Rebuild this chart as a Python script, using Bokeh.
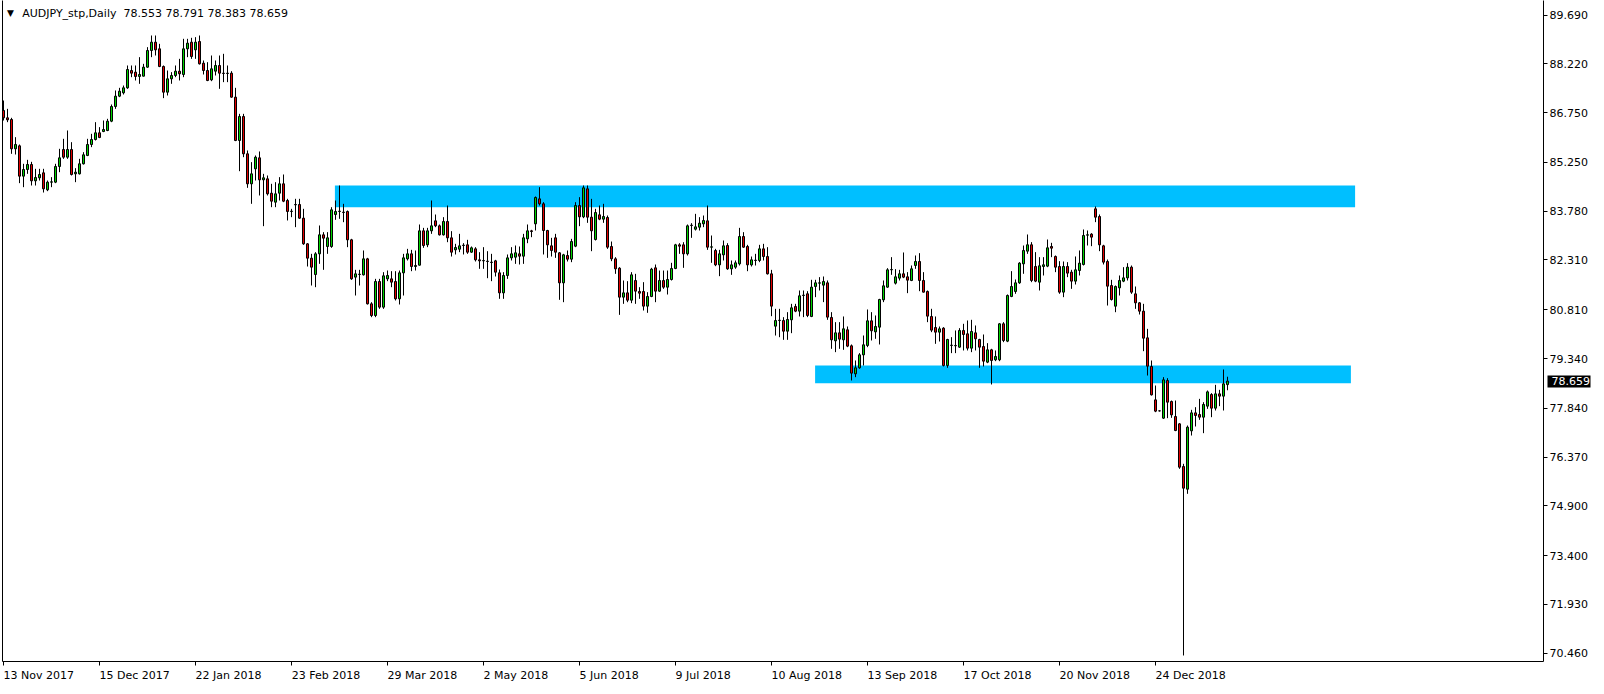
from bokeh.plotting import figure
from bokeh.models import (Range1d, LinearAxis, FixedTicker, PrintfTickFormatter,
                          CustomJSTickFormatter, Label, ColumnDataSource)
from bokeh.embed import file_html
from bokeh.resources import INLINE

# ---------------- data ----------------
symbol = "AUDJPY_stp"
timeframe = "Daily"

opens = [
    86.815, 86.594, 86.544, 85.660, 85.750, 84.836, 85.037, 85.187, 84.695, 84.786,
    84.936, 84.424, 84.655, 84.655, 85.127, 85.639, 85.408, 85.639, 84.906, 84.906,
    85.208, 85.459, 85.790, 85.941, 86.142, 86.182, 86.212, 86.493, 86.935, 87.247,
    87.347, 87.498, 88.020, 87.970, 87.840, 87.850, 88.121, 88.623, 88.874, 88.673,
    88.141, 87.367, 87.769, 87.870, 88.000, 87.900, 88.673, 88.874, 88.643, 88.894,
    88.241, 88.020, 87.739, 88.000, 88.171, 87.940, 87.930, 87.940, 87.217, 85.911,
    86.634, 85.509, 84.605, 85.057, 85.388, 84.725, 84.755, 84.323, 84.052, 84.323,
    84.605, 84.102, 83.771, 83.982, 83.982, 83.570, 82.796, 82.364, 81.872, 82.495,
    83.068, 82.716, 82.716, 83.680, 83.771, 83.751, 83.771, 82.917, 81.792, 81.872,
    81.862, 82.344, 80.988, 80.636, 81.661, 80.888, 81.741, 81.741, 81.661, 81.139,
    81.922, 82.344, 82.495, 82.113, 82.153, 83.188, 82.766, 83.188, 83.489, 83.339,
    83.067, 83.469, 82.977, 82.615, 82.635, 82.746, 82.766, 82.545, 82.645, 82.314,
    82.284, 82.274, 82.244, 82.284, 81.922, 81.319, 81.842, 82.374, 82.394, 82.495,
    82.424, 82.947, 83.188, 83.399, 84.152, 84.002, 83.198, 82.736, 82.977, 82.525,
    81.621, 82.445, 82.334, 82.726, 83.951, 83.610, 84.454, 83.600, 82.927, 83.670,
    83.540, 83.590, 82.716, 82.344, 82.063, 81.189, 81.319, 81.098, 81.691, 81.360,
    81.360, 80.918, 81.209, 82.073, 81.370, 81.691, 81.490, 81.721, 82.053, 82.766,
    82.766, 82.495, 83.349, 83.238, 83.298, 83.399, 83.489, 82.696, 82.595, 82.163,
    82.465, 82.746, 82.043, 82.093, 82.193, 83.017, 82.716, 82.163, 82.294, 82.294,
    82.645, 82.414, 81.892, 80.315, 80.485, 80.485, 80.164, 80.506, 80.908, 80.767,
    81.240, 81.290, 80.607, 81.511, 81.611, 81.551, 81.621, 80.577, 79.873, 80.114,
    79.903, 80.205, 79.723, 78.879, 79.060, 79.451, 79.733, 80.476, 80.144, 80.285,
    81.109, 81.491, 82.013, 81.611, 81.762, 81.893, 81.802, 81.692, 82.144, 82.264,
    81.692, 81.360, 80.607, 80.275, 80.134, 80.255, 79.130, 79.733, 79.723, 79.682,
    80.185, 80.084, 79.652, 80.114, 79.913, 79.702, 79.230, 79.602, 79.301, 79.301,
    80.386, 79.863, 81.209, 81.360, 81.621, 82.194, 82.576, 82.767, 82.114, 81.641,
    82.114, 82.124, 82.716, 82.415, 82.114, 81.340, 82.114, 81.943, 81.672, 81.993,
    82.174, 83.058, 83.088, 83.851, 83.620, 82.736, 82.264, 81.540, 80.917, 81.470,
    81.671, 81.771, 82.093, 81.289, 81.018, 80.767, 79.963, 79.099, 78.094, 77.763,
    77.542, 78.677, 78.044, 77.592, 77.371, 76.085, 75.402, 77.160, 77.702, 77.652,
    77.572, 77.904, 78.255, 77.843, 78.275, 78.205, 78.553,
]

highs = [
    87.116, 86.865, 86.594, 86.011, 85.790, 85.208, 85.328, 85.268, 85.057, 85.057,
    85.057, 84.705, 84.806, 85.208, 85.660, 85.961, 86.212, 85.860, 85.077, 85.358,
    85.559, 85.961, 86.112, 86.463, 86.313, 86.513, 86.564, 86.996, 87.418, 87.498,
    87.568, 88.171, 88.171, 88.171, 88.422, 88.221, 88.724, 89.075, 89.075, 88.824,
    88.171, 88.020, 87.970, 88.171, 88.372, 88.975, 88.975, 89.005, 89.025, 89.075,
    88.322, 88.271, 88.472, 88.322, 88.472, 88.523, 88.171, 88.000, 87.498, 86.714,
    86.714, 85.610, 85.258, 85.459, 85.580, 84.906, 84.856, 84.605, 84.655, 84.806,
    84.886, 84.153, 83.851, 84.153, 84.153, 83.851, 82.817, 82.495, 82.545, 83.349,
    83.148, 83.148, 83.901, 84.102, 84.554, 84.002, 83.801, 82.947, 82.013, 82.013,
    82.596, 82.374, 81.038, 81.741, 81.741, 81.942, 81.993, 81.972, 81.972, 81.992,
    82.495, 82.645, 82.615, 82.595, 83.379, 83.278, 83.278, 84.102, 83.680, 83.379,
    83.600, 83.951, 83.178, 82.796, 83.097, 82.816, 82.917, 82.716, 82.696, 82.545,
    82.696, 82.575, 82.495, 82.314, 82.022, 81.942, 82.475, 82.696, 82.746, 82.716,
    83.097, 83.379, 83.218, 84.223, 84.504, 84.052, 83.218, 82.977, 83.097, 82.545,
    82.495, 82.595, 82.947, 84.052, 84.203, 84.554, 84.554, 84.152, 83.851, 83.951,
    84.002, 83.650, 82.866, 82.394, 82.093, 81.691, 81.671, 81.942, 81.892, 81.490,
    81.641, 81.339, 82.073, 82.173, 81.992, 81.992, 81.992, 82.224, 82.796, 82.816,
    82.846, 83.379, 83.419, 83.700, 83.600, 83.650, 83.951, 83.047, 82.645, 82.615,
    82.897, 82.816, 82.294, 82.294, 83.278, 83.148, 82.766, 82.414, 82.495, 82.766,
    82.796, 82.696, 82.012, 80.837, 80.837, 80.586, 80.737, 80.988, 80.988, 81.390,
    81.390, 81.370, 81.712, 81.712, 81.792, 81.812, 81.692, 80.737, 80.436, 80.436,
    80.607, 80.305, 79.763, 79.281, 79.502, 80.034, 80.818, 80.737, 80.637, 81.139,
    81.692, 82.063, 82.395, 82.033, 82.013, 82.536, 81.943, 82.144, 82.445, 82.515,
    81.943, 81.390, 80.838, 80.607, 80.305, 80.285, 79.934, 79.984, 80.185, 80.255,
    80.386, 80.486, 80.506, 80.335, 79.934, 80.064, 79.803, 79.632, 79.582, 80.406,
    80.436, 81.270, 81.973, 81.722, 82.244, 82.746, 83.078, 82.847, 82.546, 82.395,
    82.395, 82.927, 82.827, 82.445, 82.274, 82.264, 82.244, 82.013, 82.415, 82.596,
    83.229, 83.199, 83.118, 83.922, 83.681, 82.767, 82.324, 81.711, 81.540, 81.842,
    82.093, 82.213, 82.143, 81.510, 81.038, 80.988, 80.234, 79.280, 78.526, 77.773,
    78.778, 78.747, 78.074, 78.074, 77.391, 76.166, 77.321, 77.793, 77.873, 78.124,
    78.024, 78.376, 78.295, 78.546, 78.396, 79.009, 78.791,
]

lows = [
    86.513, 86.463, 85.509, 85.489, 84.625, 84.504, 84.906, 84.554, 84.554, 84.705,
    84.343, 84.384, 84.504, 84.625, 84.956, 85.358, 85.358, 84.856, 84.655, 84.886,
    85.187, 85.439, 85.710, 85.911, 85.981, 86.162, 86.192, 86.463, 86.865, 87.217,
    87.297, 87.468, 87.819, 87.719, 87.619, 87.840, 88.101, 88.422, 88.472, 88.121,
    87.187, 87.267, 87.619, 87.819, 87.719, 87.819, 88.422, 88.372, 88.372, 88.201,
    87.900, 87.699, 87.699, 87.870, 87.468, 87.669, 87.669, 87.200, 85.891, 84.986,
    85.408, 84.484, 84.002, 84.705, 84.253, 83.329, 84.253, 83.901, 83.901, 84.102,
    84.052, 83.500, 83.600, 83.299, 83.550, 82.766, 82.113, 81.540, 81.490, 82.194,
    82.013, 82.495, 82.676, 83.520, 83.550, 83.449, 82.696, 81.711, 81.239, 81.540,
    81.842, 80.968, 80.586, 80.586, 80.837, 80.837, 81.671, 81.490, 81.089, 80.968,
    81.239, 82.294, 81.972, 81.992, 82.143, 82.676, 82.696, 83.097, 83.298, 83.047,
    83.047, 82.846, 82.414, 82.475, 82.545, 82.475, 82.495, 82.525, 82.264, 82.043,
    82.043, 81.761, 81.671, 81.812, 81.139, 81.139, 81.741, 82.294, 82.193, 82.173,
    82.193, 82.816, 82.997, 83.198, 83.951, 82.475, 82.374, 82.414, 82.374, 81.109,
    81.038, 82.264, 82.244, 82.696, 83.329, 83.570, 83.429, 82.575, 82.897, 83.509,
    83.429, 82.645, 82.274, 81.892, 80.656, 80.988, 81.038, 81.008, 80.988, 81.139,
    80.787, 80.717, 81.189, 81.038, 81.350, 81.440, 81.269, 81.691, 82.033, 82.495,
    82.073, 82.445, 82.977, 83.198, 83.198, 83.298, 82.615, 82.224, 82.123, 81.822,
    82.294, 82.012, 81.862, 82.043, 82.143, 82.676, 81.972, 82.113, 82.143, 82.244,
    82.294, 81.872, 80.616, 80.033, 79.983, 79.903, 79.903, 80.104, 80.737, 80.607,
    80.587, 80.587, 80.587, 81.189, 81.390, 81.039, 80.506, 79.632, 79.532, 79.632,
    79.602, 79.682, 78.678, 78.778, 79.030, 79.130, 79.682, 79.883, 79.934, 79.763,
    81.039, 81.471, 81.862, 81.571, 81.692, 81.762, 81.310, 81.672, 82.043, 81.370,
    81.330, 80.436, 80.134, 79.783, 79.853, 79.100, 79.060, 79.502, 79.502, 79.662,
    79.582, 79.582, 79.532, 79.582, 79.060, 79.100, 79.200, 78.557, 79.260, 79.260,
    79.833, 79.833, 81.189, 81.290, 81.591, 81.893, 82.495, 81.641, 81.641, 81.390,
    81.842, 82.093, 82.395, 81.943, 81.290, 81.189, 81.792, 81.440, 81.571, 81.842,
    82.144, 82.746, 82.726, 83.450, 82.576, 82.174, 80.937, 81.088, 80.736, 81.239,
    81.641, 81.691, 81.289, 80.837, 80.666, 79.561, 78.828, 78.225, 77.723, 77.743,
    77.522, 77.542, 77.552, 77.150, 76.015, 70.390, 75.262, 77.019, 77.291, 77.492,
    77.090, 77.823, 77.572, 77.773, 77.904, 77.773, 78.383,
]

closes = [
    86.594, 86.534, 85.660, 85.790, 84.836, 85.037, 85.187, 84.695, 84.796, 84.886,
    84.454, 84.655, 84.665, 85.127, 85.388, 85.408, 85.639, 84.886, 84.956, 85.208,
    85.479, 85.790, 85.941, 86.142, 86.001, 86.242, 86.493, 86.935, 87.247, 87.397,
    87.498, 88.050, 87.940, 87.840, 87.900, 88.121, 88.623, 88.874, 88.643, 88.141,
    87.367, 87.769, 87.870, 88.000, 87.920, 88.673, 88.844, 88.442, 88.874, 88.221,
    88.020, 87.719, 88.071, 88.171, 87.940, 87.930, 87.940, 87.217, 85.911, 86.634,
    85.509, 84.605, 84.906, 85.408, 84.725, 84.786, 84.303, 84.082, 84.303, 84.605,
    84.082, 83.771, 83.781, 83.972, 83.570, 82.796, 82.364, 82.093, 82.495, 83.068,
    82.967, 82.977, 83.821, 83.771, 83.781, 83.741, 82.917, 81.741, 81.892, 81.882,
    82.344, 80.988, 80.636, 81.661, 80.888, 81.832, 81.842, 81.641, 81.139, 81.922,
    82.374, 82.495, 82.113, 82.143, 83.188, 82.746, 83.188, 83.339, 83.339, 83.067,
    83.469, 82.977, 82.545, 82.686, 82.736, 82.756, 82.545, 82.676, 82.314, 82.284,
    82.294, 82.264, 82.234, 81.942, 81.319, 81.842, 82.374, 82.495, 82.525, 82.424,
    82.977, 83.188, 83.168, 84.193, 84.002, 83.198, 82.766, 82.595, 82.545, 81.621,
    82.465, 82.334, 82.866, 83.951, 83.610, 84.484, 83.600, 83.188, 83.740, 83.540,
    83.620, 82.696, 82.344, 82.043, 81.189, 81.319, 81.098, 81.862, 81.370, 81.309,
    80.918, 81.209, 82.033, 81.370, 81.691, 81.490, 81.721, 82.053, 82.766, 82.726,
    82.495, 83.339, 83.359, 83.308, 83.419, 83.499, 82.696, 82.706, 82.163, 82.495,
    82.736, 82.043, 82.163, 82.224, 83.017, 82.696, 82.163, 82.314, 82.304, 82.645,
    82.414, 81.892, 80.918, 80.485, 80.495, 80.164, 80.516, 80.868, 80.767, 81.230,
    81.250, 80.637, 81.491, 81.621, 81.621, 81.662, 80.587, 79.903, 80.114, 79.924,
    80.235, 79.713, 78.899, 79.060, 79.451, 79.753, 80.476, 80.175, 80.305, 81.119,
    81.531, 82.013, 82.023, 81.802, 81.893, 81.792, 81.702, 82.043, 82.264, 81.692,
    81.340, 80.617, 80.195, 80.134, 80.235, 79.130, 79.913, 79.743, 79.733, 80.185,
    80.064, 79.652, 80.155, 79.934, 79.682, 79.260, 79.602, 79.281, 79.401, 80.386,
    79.883, 81.240, 81.511, 81.621, 82.214, 82.596, 82.767, 81.692, 81.672, 82.134,
    82.164, 82.676, 82.666, 82.093, 81.340, 82.114, 81.913, 81.672, 82.013, 82.214,
    83.048, 83.068, 82.998, 83.600, 82.767, 82.244, 81.520, 81.118, 81.510, 81.691,
    81.771, 82.093, 81.339, 81.018, 80.767, 79.953, 79.109, 78.245, 77.753, 77.763,
    78.697, 78.024, 77.642, 77.170, 76.065, 75.432, 77.271, 77.702, 77.622, 77.572,
    77.954, 78.335, 77.843, 78.275, 78.205, 78.577, 78.659,
]

date_labels = ["13 Nov 2017", "15 Dec 2017", "22 Jan 2018", "23 Feb 2018",
               "29 Mar 2018", "2 May 2018", "5 Jun 2018", "9 Jul 2018",
               "10 Aug 2018", "13 Sep 2018", "17 Oct 2018", "20 Nov 2018",
               "24 Dec 2018"]
date_label_bars = [0, 24, 48, 72, 96, 120, 144, 168, 192, 216, 240, 264, 288]

price_ticks = [89.690, 88.220, 86.750, 85.250, 83.780, 82.310, 80.810,
               79.340, 77.840, 76.370, 74.900, 73.400, 71.930, 70.460]

# support / resistance zones (rectangles)
zone_top = [84.554, 79.129]
zone_bottom = [83.900, 78.596]
zone_start_bar = [82.85, 202.9]
zone_end_bar = [337.9, 336.85]

# ---------------- layout / style ----------------
FONT = "DejaVu Sans"
BULL = "#00d400"
BEAR = "#e00000"
ZONE = "#00bfff"

FRAME_W, FRAME_H = 1541, 661
BAR_PX = 4.0              # pixels per bar
PRICE_PX = 33.18          # pixels per price unit
X0 = -0.25
X1 = X0 + FRAME_W / BAR_PX
Y1 = 90.130
Y0 = Y1 - FRAME_H / PRICE_PX

# DejaVu Sans advance widths (em) for left-aligned date labels
CHAR_W = {" ": 0.318, "N": 0.748, "o": 0.612, "v": 0.592, "D": 0.770, "e": 0.615,
          "c": 0.550, "J": 0.295, "a": 0.613, "n": 0.634, "F": 0.575, "b": 0.635,
          "M": 0.863, "r": 0.411, "y": 0.592, "u": 0.634, "l": 0.278, "A": 0.684,
          "g": 0.635, "S": 0.635, "p": 0.635, "O": 0.787, "t": 0.392}


def text_px(s, size=11):
    return sum(CHAR_W.get(ch, 0.636) for ch in s) * size


n = len(closes)
bars = list(range(n))
src = ColumnDataSource(dict(
    x=bars, high=highs, low=lows,
    top=[max(o, c) for o, c in zip(opens, closes)],
    bottom=[min(o, c) for o, c in zip(opens, closes)],
    color=[BULL if c >= o else BEAR for o, c in zip(opens, closes)],
))

p = figure(frame_width=FRAME_W, frame_height=FRAME_H,
           x_range=Range1d(X0, X1), y_range=Range1d(Y0, Y1),
           output_backend="svg", toolbar_location=None,
           x_axis_location=None, y_axis_location=None,
           min_border_left=2, min_border_right=0, min_border_top=0, min_border_bottom=0,
           background_fill_color="white", border_fill_color="white")
p.xgrid.visible = False
p.ygrid.visible = False
p.outline_line_color = None

p.quad(left=zone_start_bar, right=zone_end_bar, bottom=zone_bottom, top=zone_top,
       fill_color=ZONE, line_color=None)

p.segment(x0="x", y0="low", x1="x", y1="high", line_color="black", line_width=1, source=src)
p.vbar(x="x", width=2.0 / BAR_PX, top="top", bottom="bottom",
       fill_color="color", line_color="black", line_width=1, source=src)

# left frame line (axis without ticks)
lax = LinearAxis(ticker=FixedTicker(ticks=[], minor_ticks=[]), axis_line_color="black",
                 major_tick_out=0, major_tick_in=0, minor_tick_out=0, minor_tick_in=0,
                 major_label_standoff=0, major_label_text_font_size="0px")
p.add_layout(lax, "left")

# right price axis
yax = LinearAxis(ticker=FixedTicker(ticks=price_ticks, minor_ticks=[]),
                 formatter=PrintfTickFormatter(format="%.3f"),
                 axis_line_color="black", major_tick_line_color="black",
                 major_tick_out=4, major_tick_in=0,
                 minor_tick_line_color=None, minor_tick_out=0, minor_tick_in=0,
                 major_label_standoff=2,
                 major_label_text_font=FONT, major_label_text_font_size="11px",
                 major_label_text_color="black")
p.add_layout(yax, "right")

# last-price tag: a second right axis whose single thick inward tick forms the black box
tag = LinearAxis(ticker=FixedTicker(ticks=[closes[-1]], minor_ticks=[]),
                 formatter=PrintfTickFormatter(format="%.3f"),
                 axis_line_color=None,
                 major_tick_line_color="black", major_tick_line_width=12,
                 major_tick_in=43, major_tick_out=0,
                 minor_tick_line_color=None, minor_tick_out=0, minor_tick_in=0,
                 major_label_standoff=-39,
                 major_label_text_font=FONT, major_label_text_font_size="11px",
                 major_label_text_color="white")
p.add_layout(tag, "right")

# bottom date axis: labels start at their bar (left aligned)
centers = [b + text_px(s) / 2.0 / BAR_PX for b, s in zip(date_label_bars, date_labels)]
fmt = CustomJSTickFormatter(args=dict(pos=centers, labs=date_labels), code="""
let best = 0, d = 1e9;
for (let i = 0; i < pos.length; i++) {
  const e = Math.abs(pos[i] - tick);
  if (e < d) { d = e; best = i; }
}
return labs[best];
""")
xax = LinearAxis(ticker=FixedTicker(ticks=centers, minor_ticks=date_label_bars),
                 formatter=fmt,
                 axis_line_color="black",
                 major_tick_line_color=None, major_tick_out=0, major_tick_in=0,
                 minor_tick_line_color="black", minor_tick_out=4, minor_tick_in=0,
                 major_label_standoff=3,
                 major_label_text_font=FONT, major_label_text_font_size="11px",
                 major_label_text_color="black")
p.add_layout(xax, "below")

# header
hdr_y = Y1 - 12.7 / PRICE_PX
p.add_layout(Label(x=X0 + 4.5 / BAR_PX, y=hdr_y, text="\u25bc", text_font=FONT,
                   text_font_size="9px", text_baseline="middle", text_align="left",
                   text_color="black"))
header = "%s,%s\u00a0\u00a0%.3f %.3f %.3f %.3f" % (symbol, timeframe, opens[-1], highs[-1],
                                                 lows[-1], closes[-1])
p.add_layout(Label(x=X0 + 19.7 / BAR_PX, y=hdr_y, text=header, text_font=FONT,
                   text_font_size="11px", text_baseline="middle", text_align="left",
                   text_color="black"))

open("out.html", "w").write(file_html(p, INLINE))
